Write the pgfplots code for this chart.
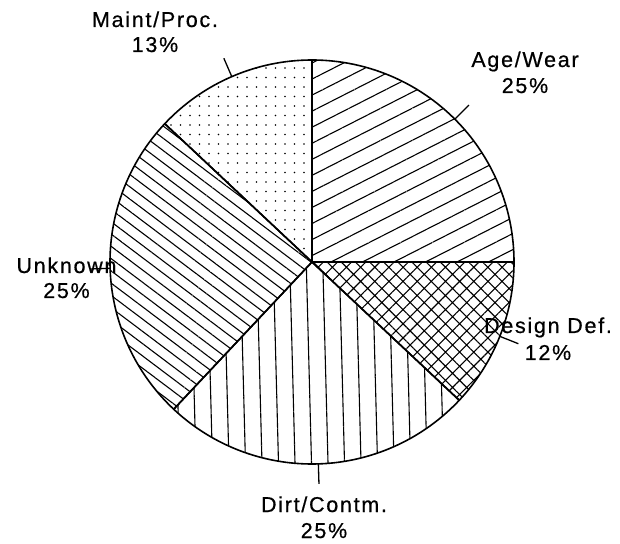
\documentclass[border=0pt]{standalone}
\usepackage{pgfplots}
\pgfplotsset{compat=1.18}
\usepackage{pgfplotstable}
\usetikzlibrary{patterns.meta}
\usepackage{fontspec}
\setmainfont{Liberation Sans}
\newfontfamily\lblfont[LetterSpace=8,FakeBold=0.6]{Liberation Sans}

% share of failures, clockwise from 12 o'clock
\pgfplotstableread{
cause pct
AgeWear 25
DesignDef 12
DirtContm 25
Unknown 25
MaintProc 13
}\piedata

\tikzset{
 slice0/.style={pattern={Lines[angle=27,distance=14.3pt,line width=1.1pt]}},
 slice1/.style={pattern={Hatch[angle=45,distance=10pt,line width=1.1pt]}},
 slice2/.style={pattern={Lines[angle=91.5,distance=16.5pt,line width=1.1pt]}},
 slice3/.style={pattern={Lines[angle=-37,distance=9.8pt,line width=1.1pt]}},
 slice4/.style={pattern={Dots[distance=9.5pt,radius=0.8pt]}},
 lbl/.style={font=\lblfont\fontsize{21.5}{25}\selectfont,inner sep=0pt,anchor=base},
}
\newcommand\lab[5]{%
  \node[lbl] at (axis cs:#1,#2) {#3};
  \node[lbl] at (axis cs:#1,#4) {#5};}

\begin{document}
\begin{tikzpicture}
\begin{axis}[name=ax,
 width=620pt,height=543pt,scale only axis,
 xmin=0,xmax=620,ymin=0,ymax=543,
 hide axis,clip=false]
\pgfplotstablegetrowsof{\piedata}
\pgfmathtruncatemacro\nlast{\pgfplotsretval-1}
\gdef\angstart{90}
\foreach \i in {0,...,\nlast}{
  \pgfplotstablegetelem{\i}{pct}\of\piedata
  \pgfmathsetmacro\angend{\angstart-3.6*\pgfplotsretval}
  \pgfmathsetmacro\angmid{(\angstart+\angend)/2}
  \edef\cmd{\noexpand\filldraw[slice\i,line width=1.6pt,line join=round]
    (axis cs:312,281) -- ++(\angstart:202pt)
    arc[start angle=\angstart,end angle=\angend,radius=202pt] -- cycle;
    \noexpand\draw[line width=1.3pt] (axis cs:312,281) ++(\angmid:202pt) -- ++(\angmid:20pt);}
  \cmd
  \global\let\angstart\angend
}
\lab{155}{516}{Maint/Proc.}{491}{13\%}
\lab{525}{476}{Age/Wear}{450}{25\%}
\lab{66.5}{270}{Unknown}{245}{25\%}
\lab{548}{210}{Design Def.}{183}{12\%}
\lab{324}{31}{Dirt/Contm.}{5}{25\%}
\end{axis}
\pgfresetboundingbox
\useasboundingbox (ax.south west) rectangle (ax.north east);
\end{tikzpicture}
\end{document}
